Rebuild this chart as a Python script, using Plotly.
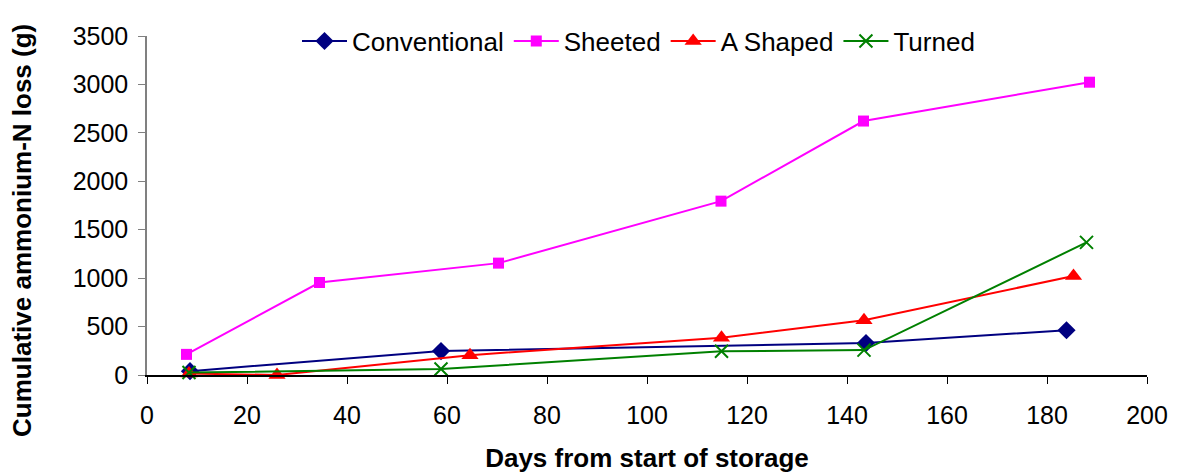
import plotly.graph_objects as go

# Data
conv_days = [8.6, 58.8, 143.8, 183.9]
conv_vals = [40, 247, 330, 462]

sheet_days = [7.9, 34.5, 70.3, 114.8, 143.3, 188.5]
sheet_vals = [213, 955, 1155, 1795, 2622, 3023]

ashape_days = [8.4, 26.0, 64.6, 114.9, 143.4, 185.3]
ashape_vals = [15, 0, 205, 385, 566, 1022]

turned_days = [8.4, 58.8, 114.9, 143.4, 187.9]
turned_vals = [25, 62, 245, 257, 1369]

x_ticks = list(range(0, 201, 20))
y_ticks = list(range(0, 3501, 500))

FONT = "Liberation Sans, Arial, sans-serif"

fig = go.Figure()
fig.add_trace(go.Scatter(x=conv_days, y=conv_vals, name="Conventional", mode="lines+markers",
                         line=dict(color="#000080", width=2),
                         marker=dict(symbol="diamond", size=14, color="#000080"),
                         cliponaxis=False))
fig.add_trace(go.Scatter(x=sheet_days, y=sheet_vals, name="Sheeted", mode="lines+markers",
                         line=dict(color="#FF00FF", width=2),
                         marker=dict(symbol="square", size=11, color="#FF00FF"),
                         cliponaxis=False))
fig.add_trace(go.Scatter(x=ashape_days, y=ashape_vals, name="A Shaped", mode="lines+markers",
                         line=dict(color="#FF0000", width=2),
                         marker=dict(symbol="triangle-up", size=15, color="#FF0000"),
                         cliponaxis=False))
fig.add_trace(go.Scatter(x=turned_days, y=turned_vals, name="Turned", mode="lines+markers",
                         line=dict(color="#008000", width=2),
                         marker=dict(symbol="x-thin", size=13, color="#008000",
                                     line=dict(color="#008000", width=2)),
                         cliponaxis=False))

fig.update_layout(
    width=1179, height=473,
    margin=dict(l=147, r=32, t=36, b=98),
    paper_bgcolor="white", plot_bgcolor="white",
    font=dict(family=FONT, size=25, color="black"),
    showlegend=True,
    legend=dict(orientation="h", x=0.150, y=0.985, xanchor="left", yanchor="middle",
                bgcolor="rgba(0,0,0,0)", font=dict(size=26), tracegroupgap=0,
                itemwidth=45),
    xaxis=dict(range=[0, 200], tickvals=x_ticks, ticks="outside", ticklen=7,
               tickcolor="black", showline=True, linecolor="black", linewidth=1.5,
               showgrid=False, zeroline=False, ticklabelstandoff=10,
               tickfont=dict(size=25), automargin=False,
               title=dict(text="<b>Days from start of storage</b>", font=dict(size=26),
                          standoff=24)),
    yaxis=dict(range=[0, 3500], tickvals=y_ticks, ticks="outside", ticklen=7,
               tickcolor="#808080", showline=True, linecolor="#808080", linewidth=1.5,
               showgrid=False, zeroline=False, tickfont=dict(size=25), automargin=False,
               ticklabelstandoff=5),
    annotations=[dict(text="<b>Cumulative ammonium-N loss (g)</b>", textangle=-90,
                      xref="paper", yref="paper", x=-0.125, y=0.425,
                      xanchor="center", yanchor="middle", showarrow=False,
                      font=dict(size=26, family=FONT, color="black"))],
)

fig.write_html("out.html")
